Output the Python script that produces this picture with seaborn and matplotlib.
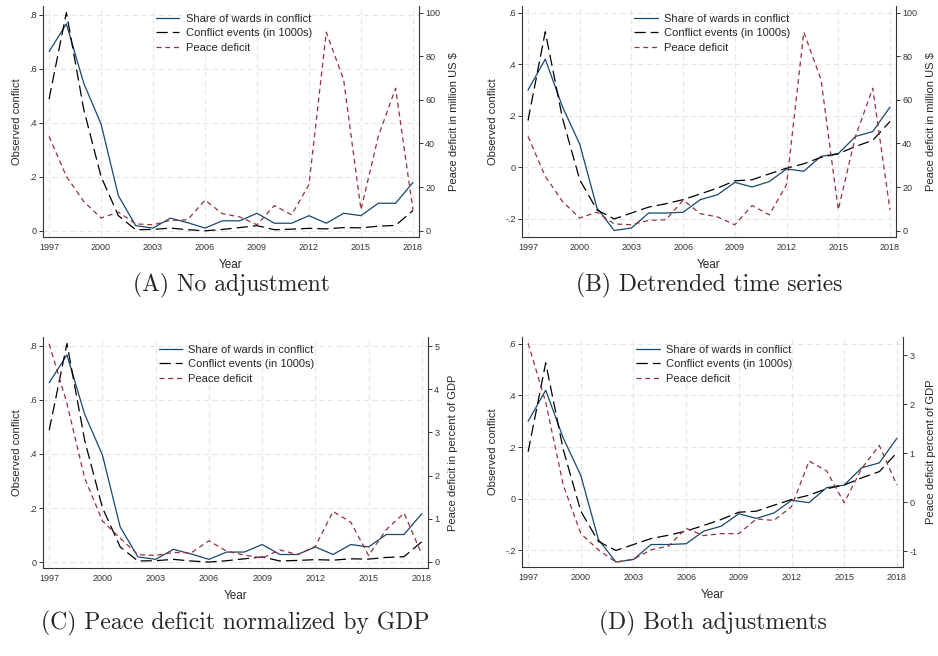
import matplotlib
matplotlib.use("Agg")
import matplotlib.pyplot as plt
import numpy as np
import pandas as pd
import seaborn as sns

sns.set_style("white")
plt.rcParams['font.family'] = ['Liberation Sans', 'DejaVu Sans']

years = list(range(1997, 2019))

# observed conflict, raw
share_raw = [0.664, 0.767, 0.547, 0.396, 0.130, 0.019, 0.010, 0.047, 0.030, 0.010, 0.037,
             0.037, 0.065, 0.028, 0.028, 0.056, 0.028, 0.065, 0.056, 0.102, 0.102, 0.179]
events_raw = [0.488, 0.809, 0.450, 0.201, 0.056, 0.004, 0.005, 0.010, 0.004, 0.000, 0.005,
              0.012, 0.019, 0.004, 0.006, 0.009, 0.007, 0.012, 0.011, 0.017, 0.020, 0.075]

# observed conflict, detrended
share_dt = [0.300, 0.420, 0.235, 0.090, -0.157, -0.245, -0.235, -0.177, -0.177, -0.174, -0.125,
            -0.106, -0.058, -0.076, -0.055, -0.006, -0.015, 0.043, 0.053, 0.120, 0.139, 0.234]
events_dt = [0.182, 0.526, 0.190, -0.048, -0.165, -0.200, -0.177, -0.154, -0.141, -0.125, -0.103,
             -0.080, -0.052, -0.048, -0.025, -0.003, 0.014, 0.039, 0.053, 0.081, 0.105, 0.178]

# peace deficit in million US $
deficit_usd = [43.2, 24.9, 13.4, 5.8, 8.5, 3.1, 2.7, 4.7, 5.0, 14.0, 7.8,
               6.3, 2.7, 11.5, 7.3, 21.1, 91.0, 69.2, 9.6, 43.2, 65.3, 9.6]
# peace deficit in percent of GDP
deficit_gdp = [5.05, 3.67, 1.94, 0.95, 0.55, 0.17, 0.15, 0.22, 0.21, 0.49, 0.25,
               0.16, 0.09, 0.28, 0.17, 0.36, 1.17, 0.92, 0.15, 0.75, 1.13, 0.18]
# peace deficit in percent of GDP, detrended
deficit_gdp_dt = [3.24, 2.04, 0.35, -0.64, -0.97, -1.22, -1.16, -0.97, -0.89, -0.53, -0.68,
                  -0.64, -0.64, -0.34, -0.37, -0.09, 0.84, 0.64, -0.01, 0.69, 1.16, 0.35]

captions = ["(A) No adjustment", "(B) Detrended time series",
            "(C) Peace deficit normalized by GDP", "(D) Both adjustments"]
right_labels = ["Peace deficit in million US $", "Peace deficit in million US $",
                "Peace deficit in percent of GDP", "Peace deficit percent of GDP"]
legend_labels = ["Share of wards in conflict", "Conflict events (in 1000s)", "Peace deficit"]

BLUE = "#1a476f"
RED = "#90353b"
GRID = "#e6e6e6"

W, H = 938, 656
fig = plt.figure(figsize=(W / 100, H / 100), dpi=100)


def stata_fmt(v):
    if abs(v) < 1e-9:
        return "0"
    s = f"{v:.1f}"
    return s.replace("0.", ".")


panels = [
    # left, right, top, bottom, caption y (px), data, ylims, ticks
    (43, 419, 6, 237, 285, share_raw, events_raw, deficit_usd, (-0.023, 0.833), (-2.9, 103),
     [0, 0.2, 0.4, 0.6, 0.8], [0, 20, 40, 60, 80, 100]),
    (522, 896, 6, 237, 285, share_dt, events_dt, deficit_usd, (-0.27, 0.626), (-2.9, 103),
     [-0.2, 0, 0.2, 0.4, 0.6], [0, 20, 40, 60, 80, 100]),
    (43, 428, 337, 568, 623, share_raw, events_raw, deficit_gdp, (-0.022, 0.833), (-0.14, 5.21),
     [0, 0.2, 0.4, 0.6, 0.8], [0, 1, 2, 3, 4, 5]),
    (522, 903, 337, 567, 623, share_dt, events_dt, deficit_gdp_dt, (-0.264, 0.626), (-1.32, 3.37),
     [-0.2, 0, 0.2, 0.4, 0.6], [-1, 0, 1, 2, 3]),
]

for i, (l, r, t, b, cyp, share, events, deficit, ylim, ylim2, yt, yt2) in enumerate(panels):
    ax = fig.add_axes([l / W, (H - b) / H, (r - l) / W, (b - t) / H])
    ax2 = ax.twinx()
    df = pd.DataFrame({"year": years, "share": share, "events": events, "deficit": deficit})

    sns.lineplot(data=df, x="year", y="share", ax=ax, color=BLUE, lw=0.9,
                 label=legend_labels[0], legend=False)
    sns.lineplot(data=df, x="year", y="events", ax=ax, color="black", lw=0.9,
                 linestyle=(0, (9, 4)), label=legend_labels[1], legend=False)
    sns.lineplot(data=df, x="year", y="deficit", ax=ax2, color=RED, lw=0.9,
                 linestyle=(0, (4, 3)), label=legend_labels[2], legend=False)

    ax.set_xlim(1996.65, 2018.35)
    ax.set_ylim(*ylim)
    ax2.set_ylim(*ylim2)
    xt = list(range(1997, 2019, 3))
    ax.set_xticks(xt)
    ax.set_xticklabels([str(x) for x in xt], fontsize=6.5)
    ax.set_yticks(yt)
    ax.set_yticklabels([stata_fmt(v) for v in yt], fontsize=6.5)
    ax2.set_yticks(yt2)
    ax2.set_yticklabels([str(v) for v in yt2], fontsize=6.5)

    ax.grid(True, color=GRID, linestyle=(0, (5, 3)), lw=0.8)
    ax.set_axisbelow(True)
    for a in (ax, ax2):
        a.spines['top'].set_visible(False)
        for s in ('left', 'right', 'bottom'):
            a.spines[s].set_color("#333333")
            a.spines[s].set_linewidth(0.8)
    ax.spines['right'].set_visible(False)
    ax2.spines['left'].set_visible(False)
    ax2.spines['bottom'].set_visible(False)
    ax.tick_params(axis='both', direction='out', length=3, width=0.7, colors="#333333", pad=1.5)
    ax2.tick_params(axis='y', direction='out', length=3, width=0.7, colors="#333333", pad=1.5)

    ax.set_xlabel("Year", fontsize=8.5, labelpad=5)
    ax.set_ylabel("Observed conflict", fontsize=8, labelpad=5)
    ax2.set_ylabel(right_labels[i], fontsize=8, rotation=90, labelpad=6)

    h1, l1 = ax.get_legend_handles_labels()
    h2, l2 = ax2.get_legend_handles_labels()
    ax.legend(h1 + h2, l1 + l2, loc="upper left", bbox_to_anchor=(0.28, 1.0),
              frameon=False, fontsize=8, handlelength=2.1, handletextpad=0.55,
              labelspacing=0.4, borderaxespad=0.3)

    cx = (l + r) / 2 / W
    fig.text(cx, 1 - cyp / H, captions[i], ha="center", va="center", fontsize=17, family="cmr10")

fig.savefig("out.png", dpi=100)
